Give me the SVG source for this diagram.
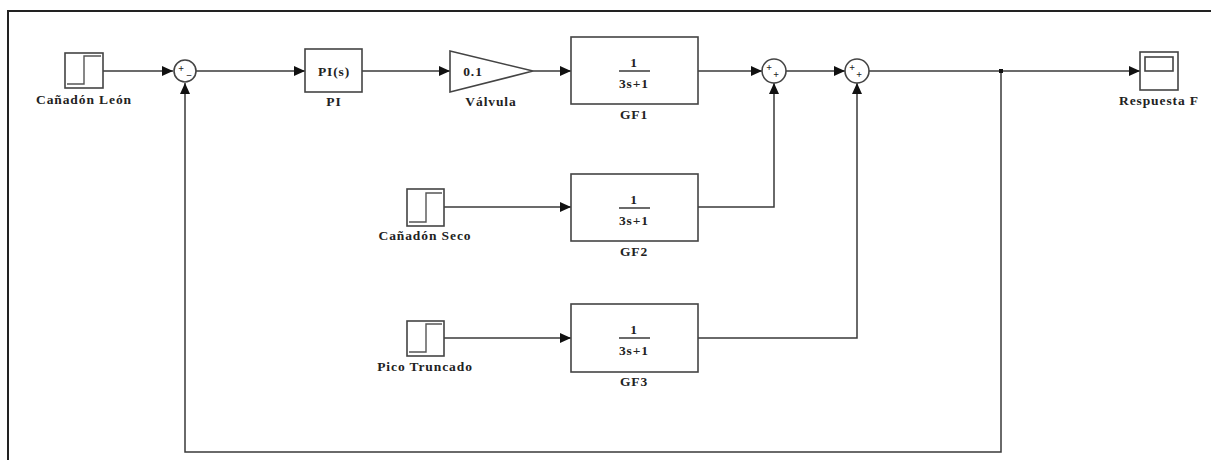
<svg xmlns="http://www.w3.org/2000/svg" width="1211" height="460" viewBox="0 0 1211 460">
<style>
.blk{fill:#fff;stroke:#444;stroke-width:1.6}
.ln{fill:none;stroke:#3a3a3a;stroke-width:1.5}
.stp{fill:none;stroke:#555;stroke-width:1.4}
.t{font-family:"Liberation Serif","Times New Roman",serif;font-weight:bold;font-size:13.5px;letter-spacing:0.9px;fill:#222;text-anchor:middle}
.s{font-family:"Liberation Serif","Times New Roman",serif;font-weight:bold;font-size:10px;fill:#222;text-anchor:middle}
</style>
<defs>
<marker id="ah" markerUnits="userSpaceOnUse" markerWidth="11" markerHeight="10" refX="11" refY="5" orient="auto">
<path d="M0,0 L11,5 L0,10 z" fill="#111"/>
</marker>
</defs>
<rect width="1211" height="460" fill="#fff"/>
<path d="M8,460 V11 H1211" fill="none" stroke="#222" stroke-width="2"/>

<g id="connectors">
<path class="ln" d="M103,71 H173" marker-end="url(#ah)"/>
<path class="ln" d="M196,71 H305" marker-end="url(#ah)"/>
<path class="ln" d="M362,71 H450" marker-end="url(#ah)"/>
<path class="ln" d="M533,71 H571" marker-end="url(#ah)"/>
<path class="ln" d="M698,71 H762" marker-end="url(#ah)"/>
<path class="ln" d="M786,71 H845" marker-end="url(#ah)"/>
<path class="ln" d="M869,71 H1140" marker-end="url(#ah)"/>
<path class="ln" d="M1001,71 V452 H185 V83" marker-end="url(#ah)"/>
<rect x="999" y="69" width="4" height="4" fill="#111"/>
<path class="ln" d="M444,207 H571" marker-end="url(#ah)"/>
<path class="ln" d="M698,207 H774 V83" marker-end="url(#ah)"/>
<path class="ln" d="M444,338 H571" marker-end="url(#ah)"/>
<path class="ln" d="M698,338 H857 V83" marker-end="url(#ah)"/>
</g>

<g id="step1">
<rect class="blk" x="65" y="53" width="38" height="35"/>
<path class="stp" d="M67,84 H84 V56 H101"/>
<text class="t" x="84" y="104">Cañadón León</text>
</g>

<g id="sum1">
<circle class="blk" cx="185" cy="71" r="11"/>
<text class="s" x="181" y="72">+</text>
<text class="s" x="189" y="79">−</text>
</g>

<g id="pi">
<rect class="blk" x="305" y="49" width="57" height="43"/>
<text class="t" x="334" y="76">PI(s)</text>
<text class="t" x="334" y="106">PI</text>
</g>

<g id="valvula">
<path class="blk" d="M450,51 L533,71 L450,92 z"/>
<text class="t" x="473" y="76">0.1</text>
<text class="t" x="491" y="106">Válvula</text>
</g>

<g id="gf1">
<rect class="blk" x="571" y="37" width="127" height="67"/>
<text class="t" x="634" y="67">1</text>
<path class="ln" d="M619,71 H650"/>
<text class="t" x="634" y="88">3s+1</text>
<text class="t" x="634" y="119">GF1</text>
</g>

<g id="sum2">
<circle class="blk" cx="774" cy="71" r="12"/>
<text class="s" x="769" y="71">+</text>
<text class="s" x="776" y="78">+</text>
</g>

<g id="sum3">
<circle class="blk" cx="857" cy="71" r="12"/>
<text class="s" x="852" y="71">+</text>
<text class="s" x="859" y="78">+</text>
</g>

<g id="scope">
<rect class="blk" x="1140" y="52" width="38" height="38"/>
<rect class="blk" x="1145" y="57" width="28" height="14"/>
<text class="t" x="1159" y="105">Respuesta F</text>
</g>

<g id="step2">
<rect class="blk" x="407" y="189" width="37" height="37"/>
<path class="stp" d="M409,222 H426 V193 H442"/>
<text class="t" x="425" y="240">Cañadón Seco</text>
</g>

<g id="gf2">
<rect class="blk" x="571" y="174" width="127" height="67"/>
<text class="t" x="634" y="204">1</text>
<path class="ln" d="M619,208 H650"/>
<text class="t" x="634" y="225">3s+1</text>
<text class="t" x="634" y="256">GF2</text>
</g>

<g id="step3">
<rect class="blk" x="407" y="321" width="37" height="35"/>
<path class="stp" d="M409,352 H426 V324 H442"/>
<text class="t" x="425" y="371">Pico Truncado</text>
</g>

<g id="gf3">
<rect class="blk" x="571" y="304" width="127" height="68"/>
<text class="t" x="634" y="334">1</text>
<path class="ln" d="M619,338 H650"/>
<text class="t" x="634" y="355">3s+1</text>
<text class="t" x="634" y="386">GF3</text>
</g>
</svg>
